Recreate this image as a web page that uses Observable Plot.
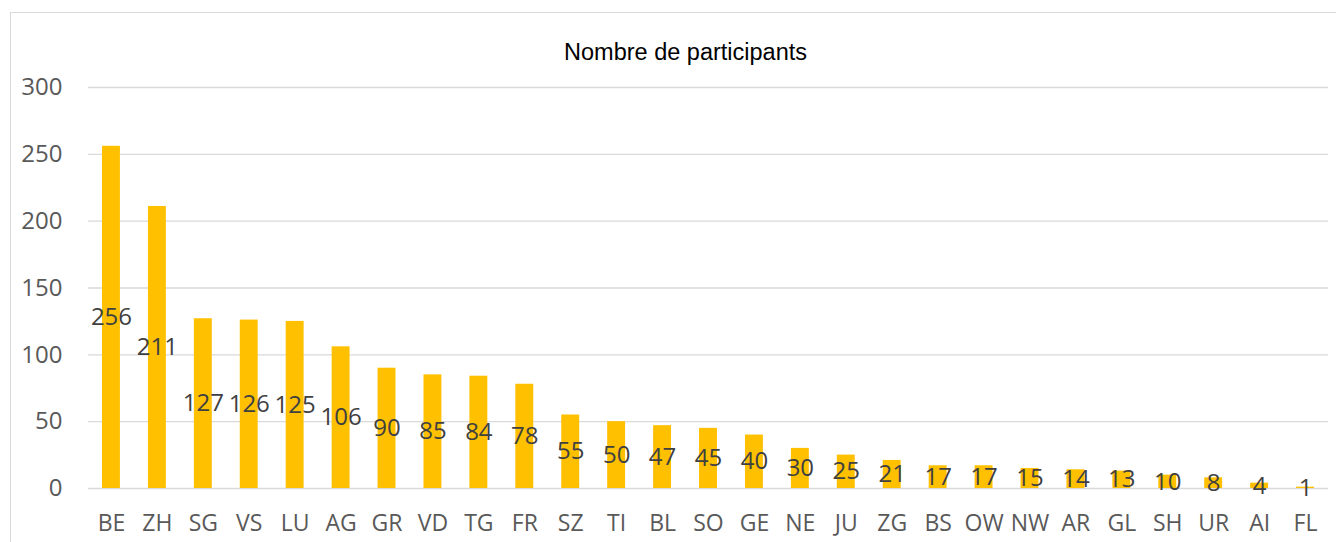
<!DOCTYPE html>
<html>
<head>
<meta charset="utf-8">
<script src="https://cdn.jsdelivr.net/npm/d3@7"></script>
<script src="https://cdn.jsdelivr.net/npm/@observablehq/plot@0.6"></script>
<style>
  html, body { margin: 0; padding: 0; background: #fff; overflow: hidden; }
  #wrap { position: relative; width: 1336px; height: 542px; overflow: hidden; }
  #frame { position: absolute; left: 10px; top: 12px; width: 1400px; height: 700px;
           border: 1.5px solid #d9d9d9; box-sizing: border-box; }
  #chart { position: absolute; left: 0; top: 0; }
</style>
</head>
<body>
<div id="wrap"><div id="frame"></div><div id="chart"></div></div>
<script>
const cantons = ["BE","ZH","SG","VS","LU","AG","GR","VD","TG","FR","SZ","TI","BL","SO","GE","NE","JU","ZG","BS","OW","NW","AR","GL","SH","UR","AI","FL"];
const participants = [256,211,127,126,125,106,90,85,84,78,55,50,47,45,40,30,25,21,17,17,15,14,13,10,8,4,1];
const yTicks = [0,50,100,150,200,250,300];
const title = "Nombre de participants";

const data = cantons.map((c, i) => ({canton: c, value: participants[i]}));
const font = "'Open Sans', sans-serif";

const chart = Plot.plot({
  width: 1336,
  height: 542,
  marginTop: 87,
  marginBottom: 54,
  marginLeft: 88,
  marginRight: 8,
  style: {fontFamily: font, background: "transparent", overflow: "visible"},
  x: {domain: cantons, paddingInner: 0.61, paddingOuter: 0.305, round: false, label: null},
  y: {domain: [0, 300], label: null},
  marks: [
    Plot.ruleY(yTicks, {stroke: "#d9d9d9", strokeWidth: 1.3}),
    Plot.barY(data, {x: "canton", y: "value", fill: "#FFC000"}),
    Plot.text(data, {x: "canton", y: d => d.value / 2, text: d => String(d.value),
      fill: "#404040", fontSize: 24, fontFamily: font}),
    Plot.axisX({tickSize: 0, tickPadding: 26, fontSize: 23, fill: "#595959", label: null}),
    Plot.axisY({ticks: yTicks, tickSize: 0, tickPadding: 26, fontSize: 24, fill: "#595959", label: null}),
    Plot.text([title], {frameAnchor: "top", lineAnchor: "middle", dx: -23, dy: -35, fontSize: 23.5, fill: "#000",
      fontFamily: "'Liberation Sans', Arial, sans-serif"})
  ]
});
document.getElementById("chart").appendChild(chart);
</script>
</body>
</html>
